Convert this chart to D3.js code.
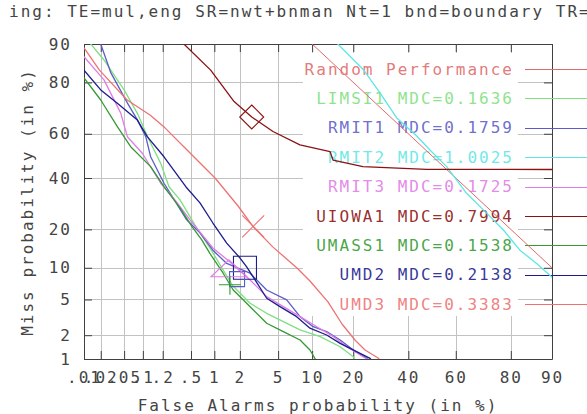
<!DOCTYPE html>
<html>
<head>
<meta charset="utf-8">
<script src="https://cdn.jsdelivr.net/npm/d3@7"></script>
<style>
body{margin:0;background:#fff;}
text{font-family:"DejaVu Sans Mono",monospace;font-size:16px;letter-spacing:2px;fill:#444;}
</style>
</head>
<body>
<svg id="chart" width="587" height="414"></svg>
<script>
// tick values in percent
var xTicks = [0.01,0.02,0.05,0.1,0.2,0.5,1,2,5,10,20,40,60,80,90];
var xTickLabels = [".01",".02",".05",".1",".2",".5","1","2","5","10","20","40","60","80","90"];
var yTicks = [1,2,5,10,20,40,60,80,90];
var yTickLabels = ["1","2","5","10","20","40","60","80","90"];

var titleText = "ing: TE=mul,eng SR=nwt+bnman Nt=1 bnd=boundary TR=";

// legend entries
var sysNames = ["Random Performance","LIMSI1","RMIT1","RMIT2","RMIT3","UIOWA1","UMASS1","UMD2","UMD3"];
var mdcValues = [null,"0.1636","0.1759","1.0025","0.1725","0.7994","0.1538","0.2138","0.3383"];
var sysColors = ["#e06a6a","#7fe07f","#5c5cc8","#5ee6e6","#e07ce6","#8c1212","#339a33","#1c1c8c","#ee7272"];

// curves: [false alarm %, miss %]
var randomPts = [[5,95],[50,50],[95,5]];
var limsi1 = [[0.012,91],[0.0133,90],[0.0228,86.4],[0.05,77.5],[0.082,68.7],[0.125,57.2],[0.187,46.6],[0.247,36.2],[0.354,30.7],[0.565,21.4],[0.88,14.6],[1.24,9.96],[1.63,6.97],[2.59,4.57],[3.86,3.57],[5.6,2.88],[7.92,2.31],[11.6,1.92],[16.3,1.44],[20.0,1.07],[20.5,0.95]];
var rmit1 = [[0.018,92],[0.02,90],[0.03,82.9],[0.0565,72.8],[0.082,66.0],[0.111,58.7],[0.132,49.6],[0.209,37.7],[0.437,23.2],[0.657,18.9],[0.96,14.0],[1.41,10.9],[2.59,8.95],[3.86,6.23],[6.02,4.95],[7.92,3.28],[10.2,2.52],[13.0,2.21],[16.3,1.75],[20.0,1.31],[24.3,1.02],[25,0.95]];
var rmit2 = [[15.2,91],[15.7,90],[23.1,83.9],[28.9,76.5],[35.3,66.8],[43.5,59.0],[49.1,52.7],[56.2,45.1],[64.4,33.4],[72.0,25.6],[77.7,19.8],[82.6,14.0],[86.8,10.9],[89.9,8.33],[91,7.8]];
var rmit3 = [[0.008,88.5],[0.01,87.2],[0.0228,80.8],[0.044,68.8],[0.0565,58.7],[0.098,51.2],[0.187,37.7],[0.3,30.7],[0.486,23.2],[0.96,14.6],[1.54,11.2],[2.59,7.77],[3.86,5.35],[5.6,4.21],[7.92,3.28],[10.9,2.52],[14.6,1.92],[18.1,1.44],[22.1,1.13],[24.3,1.0],[25,0.95]];
var uiowa1 = [[0.36,91],[0.4,90],[0.9,83.7],[1.72,73.3],[2.7,67.2],[4.46,61.0],[7.9,55.0],[13.8,51.9],[14.5,48.1],[23.0,45.1],[47.7,43.9],[90,43.8],[95,43.8]];
var umass1 = [[0.009,82],[0.01,81.4],[0.02,73.9],[0.0386,63.1],[0.064,54.2],[0.132,45.1],[0.209,36.2],[0.354,27.6],[0.516,20.9],[0.693,16.8],[0.88,13.2],[1.28,8.95],[1.68,6.23],[2.19,4.95],[2.81,3.88],[3.86,2.76],[5.6,2.21],[7.92,1.75],[9.6,1.31],[10.6,1.0],[10.8,0.95]];
var umd2 = [[0.009,84.5],[0.01,83.7],[0.02,77.5],[0.0386,72.7],[0.082,65.9],[0.117,58.7],[0.209,49.6],[0.428,36.1],[0.657,29.5],[0.96,22.1],[1.41,15.9],[2.01,12.1],[2.38,10.2],[2.93,7.77],[3.86,5.15],[5.21,4.21],[7.4,3.28],[9.6,2.42],[13.0,2.01],[16.3,1.59],[21.0,1.25],[25.4,1.02],[26,0.95]];
var umd3 = [[0.009,90],[0.01,89.2],[0.019,83.7],[0.056,73.9],[0.129,68.0],[0.216,62.6],[0.486,51.3],[1.02,40.0],[1.91,28.3],[2.79,20.9],[4.46,14.8],[7.45,9.96],[9.6,7.6],[13.3,4.72],[16.8,2.71],[20.5,1.75],[23.7,1.31],[28.2,1.03],[29,0.95]];
var curves = [randomPts,limsi1,rmit1,rmit2,rmit3,uiowa1,umass1,umd2,umd3];

// min DCF markers: [series index, false alarm %, miss %, shape]
var markers = [[5,2.7,67.2,"diamond"],[8,2.8,21,"cross"],[7,2.28,10,"bigsquare"],[2,1.86,7.9,"square"],[4,1.5,9.6,"triangle"],[6,1.54,7.0,"plus"]];

// inverse normal cdf (Acklam)
function probit(p) {
    var a=[-3.969683028665376e+01,2.209460984245205e+02,-2.759285104469687e+02,1.383577518672690e+02,-3.066479806614716e+01,2.506628277459239e+00];
    var b=[-5.447609879822406e+01,1.615858368580409e+02,-1.556989798598866e+02,6.680131188771972e+01,-1.328068155288572e+01];
    var c=[-7.784894002430293e-03,-3.223964580411365e-01,-2.400758277161838e+00,-2.549732539343734e+00,4.374664141464968e+00,2.938163982698783e+00];
    var d=[7.784695709041462e-03,3.224671290700398e-01,2.445134137142996e+00,3.754408661907416e+00];
    var q,r;
    if(p<0.02425){
        q=Math.sqrt(-2*Math.log(p));
        return (((((c[0]*q+c[1])*q+c[2])*q+c[3])*q+c[4])*q+c[5])/((((d[0]*q+d[1])*q+d[2])*q+d[3])*q+1);
    }
    if(p<=1-0.02425){
        q=p-0.5; r=q*q;
        return (((((a[0]*r+a[1])*r+a[2])*r+a[3])*r+a[4])*r+a[5])*q/(((((b[0]*r+b[1])*r+b[2])*r+b[3])*r+b[4])*r+1);
    }
    q=Math.sqrt(-2*Math.log(1-p));
    return -(((((c[0]*q+c[1])*q+c[2])*q+c[3])*q+c[4])*q+c[5])/((((d[0]*q+d[1])*q+d[2])*q+d[3])*q+1);
}
function pz(v) { return probit(v/100); }

var svg = d3.select("#chart");
var plotL = 84, plotT = 44, plotR = 552, plotB = 359;

var x = d3.scaleLinear()
    .domain([pz(xTicks[0]), pz(xTicks[xTicks.length-1])])
    .range([plotL, plotR]);
var y = d3.scaleLinear()
    .domain([pz(yTicks[0]), pz(yTicks[yTicks.length-1])])
    .range([plotB, plotT]);

svg.append("text")
    .attr("x", 9).attr("y", 17)
    .text(titleText);

// grid
var grid = svg.append("g").attr("stroke", "#c2c2c2").attr("stroke-width", 1);
grid.selectAll(".vx").data(xTicks).enter().append("line")
    .attr("x1", function(d){ return Math.round(x(pz(d)))+0.5; })
    .attr("x2", function(d){ return Math.round(x(pz(d)))+0.5; })
    .attr("y1", plotT).attr("y2", plotB);
grid.selectAll(".hy").data(yTicks).enter().append("line")
    .attr("y1", function(d){ return Math.round(y(pz(d)))+0.5; })
    .attr("y2", function(d){ return Math.round(y(pz(d)))+0.5; })
    .attr("x1", plotL).attr("x2", plotR);

// legend background
svg.append("rect")
    .attr("x", 303).attr("y", 53)
    .attr("width", 215).attr("height", 263)
    .attr("fill", "#fff");

// axes
var axisColor = "#404040";
function styleAxis(g) {
    g.select(".domain").attr("stroke", axisColor);
    g.selectAll(".tick line").attr("stroke", axisColor);
    g.selectAll(".tick text").attr("fill", "#444")
        .style("font-family", "DejaVu Sans Mono, monospace")
        .style("font-size", "16px");
}
svg.append("g").attr("transform", "translate(0,"+plotB+")")
    .call(d3.axisBottom(x).tickValues(xTicks.map(pz))
        .tickFormat(function(d,i){ return xTickLabels[i]; })
        .tickSizeInner(-8).tickSizeOuter(0).tickPadding(13))
    .call(styleAxis);
svg.append("g").attr("transform", "translate(0,"+plotT+")")
    .call(d3.axisTop(x).tickValues(xTicks.map(pz))
        .tickFormat("").tickSizeInner(-8).tickSizeOuter(0))
    .call(styleAxis);
svg.append("g").attr("transform", "translate("+plotL+",0)")
    .call(d3.axisLeft(y).tickValues(yTicks.map(pz))
        .tickFormat(function(d,i){ return yTickLabels[i]; })
        .tickSizeInner(-8).tickSizeOuter(0).tickPadding(12))
    .call(styleAxis);
svg.append("g").attr("transform", "translate("+plotR+",0)")
    .call(d3.axisRight(y).tickValues(yTicks.map(pz))
        .tickFormat("").tickSizeInner(-8).tickSizeOuter(0))
    .call(styleAxis);

// legend
var legTop = 69, legStep = 29.4;
var leg = svg.append("g");
sysNames.forEach(function(name, i) {
    var ly = legTop + i*legStep;
    leg.append("text")
        .attr("x", 514).attr("y", ly)
        .attr("text-anchor", "end")
        .attr("dominant-baseline", "central")
        .style("fill", sysColors[i])
        .style("fill-opacity", 0.9)
        .text(mdcValues[i] ? name + " MDC=" + mdcValues[i] : name);
    leg.append("line")
        .attr("x1", 525).attr("x2", 587)
        .attr("y1", Math.round(ly)+0.5).attr("y2", Math.round(ly)+0.5)
        .attr("stroke", sysColors[i]).attr("stroke-width", 1.2);
});

// curves
svg.append("clipPath").attr("id", "plotclip")
    .append("rect").attr("x", plotL).attr("y", plotT)
    .attr("width", plotR-plotL).attr("height", plotB-plotT);

var line = d3.line()
    .x(function(d){ return x(pz(d[0])); })
    .y(function(d){ return y(pz(d[1])); });

var plot = svg.append("g").attr("clip-path", "url(#plotclip)");
plot.selectAll(".curve").data(curves).enter().append("path")
    .attr("d", line)
    .attr("fill", "none")
    .attr("stroke", function(d,i){ return sysColors[i]; })
    .attr("stroke-width", function(d,i){ return i === 0 ? 1 : 1.3; })
    .attr("stroke-linejoin", "round");

// markers
function markerPath(shape, cx, cy) {
    var p = d3.path();
    if (shape === "diamond") {
        p.moveTo(cx, cy-12); p.lineTo(cx+12, cy); p.lineTo(cx, cy+12); p.lineTo(cx-12, cy); p.closePath();
    } else if (shape === "cross") {
        p.moveTo(cx-11, cy+11); p.lineTo(cx+11, cy-11);
        p.moveTo(cx-11, cy-11); p.lineTo(cx+11, cy+11);
    } else if (shape === "bigsquare") {
        p.rect(cx-11.5, cy-11.5, 23, 23);
    } else if (shape === "square") {
        p.rect(cx-7.5, cy-7.5, 15, 15);
    } else if (shape === "triangle") {
        p.moveTo(cx, cy-10); p.lineTo(cx+18, cy+7); p.lineTo(cx-18, cy+7); p.closePath();
    } else if (shape === "plus") {
        p.moveTo(cx-11, cy); p.lineTo(cx+11, cy);
        p.moveTo(cx, cy-9); p.lineTo(cx, cy+10);
    }
    return p.toString();
}
plot.selectAll(".mark").data(markers).enter().append("path")
    .attr("d", function(d){ return markerPath(d[3], x(pz(d[1])), y(pz(d[2]))); })
    .attr("fill", "none")
    .attr("stroke", function(d){ return sysColors[d[0]]; })
    .attr("stroke-width", 1.1);

// axis titles
svg.append("text")
    .attr("x", 318).attr("y", 411)
    .attr("text-anchor", "middle")
    .text("False Alarms probability (in %)");
svg.append("text")
    .attr("transform", "translate(27,202) rotate(-90)")
    .attr("text-anchor", "middle")
    .attr("dominant-baseline", "central")
    .text("Miss probability (in %)");
</script>
</body>
</html>
